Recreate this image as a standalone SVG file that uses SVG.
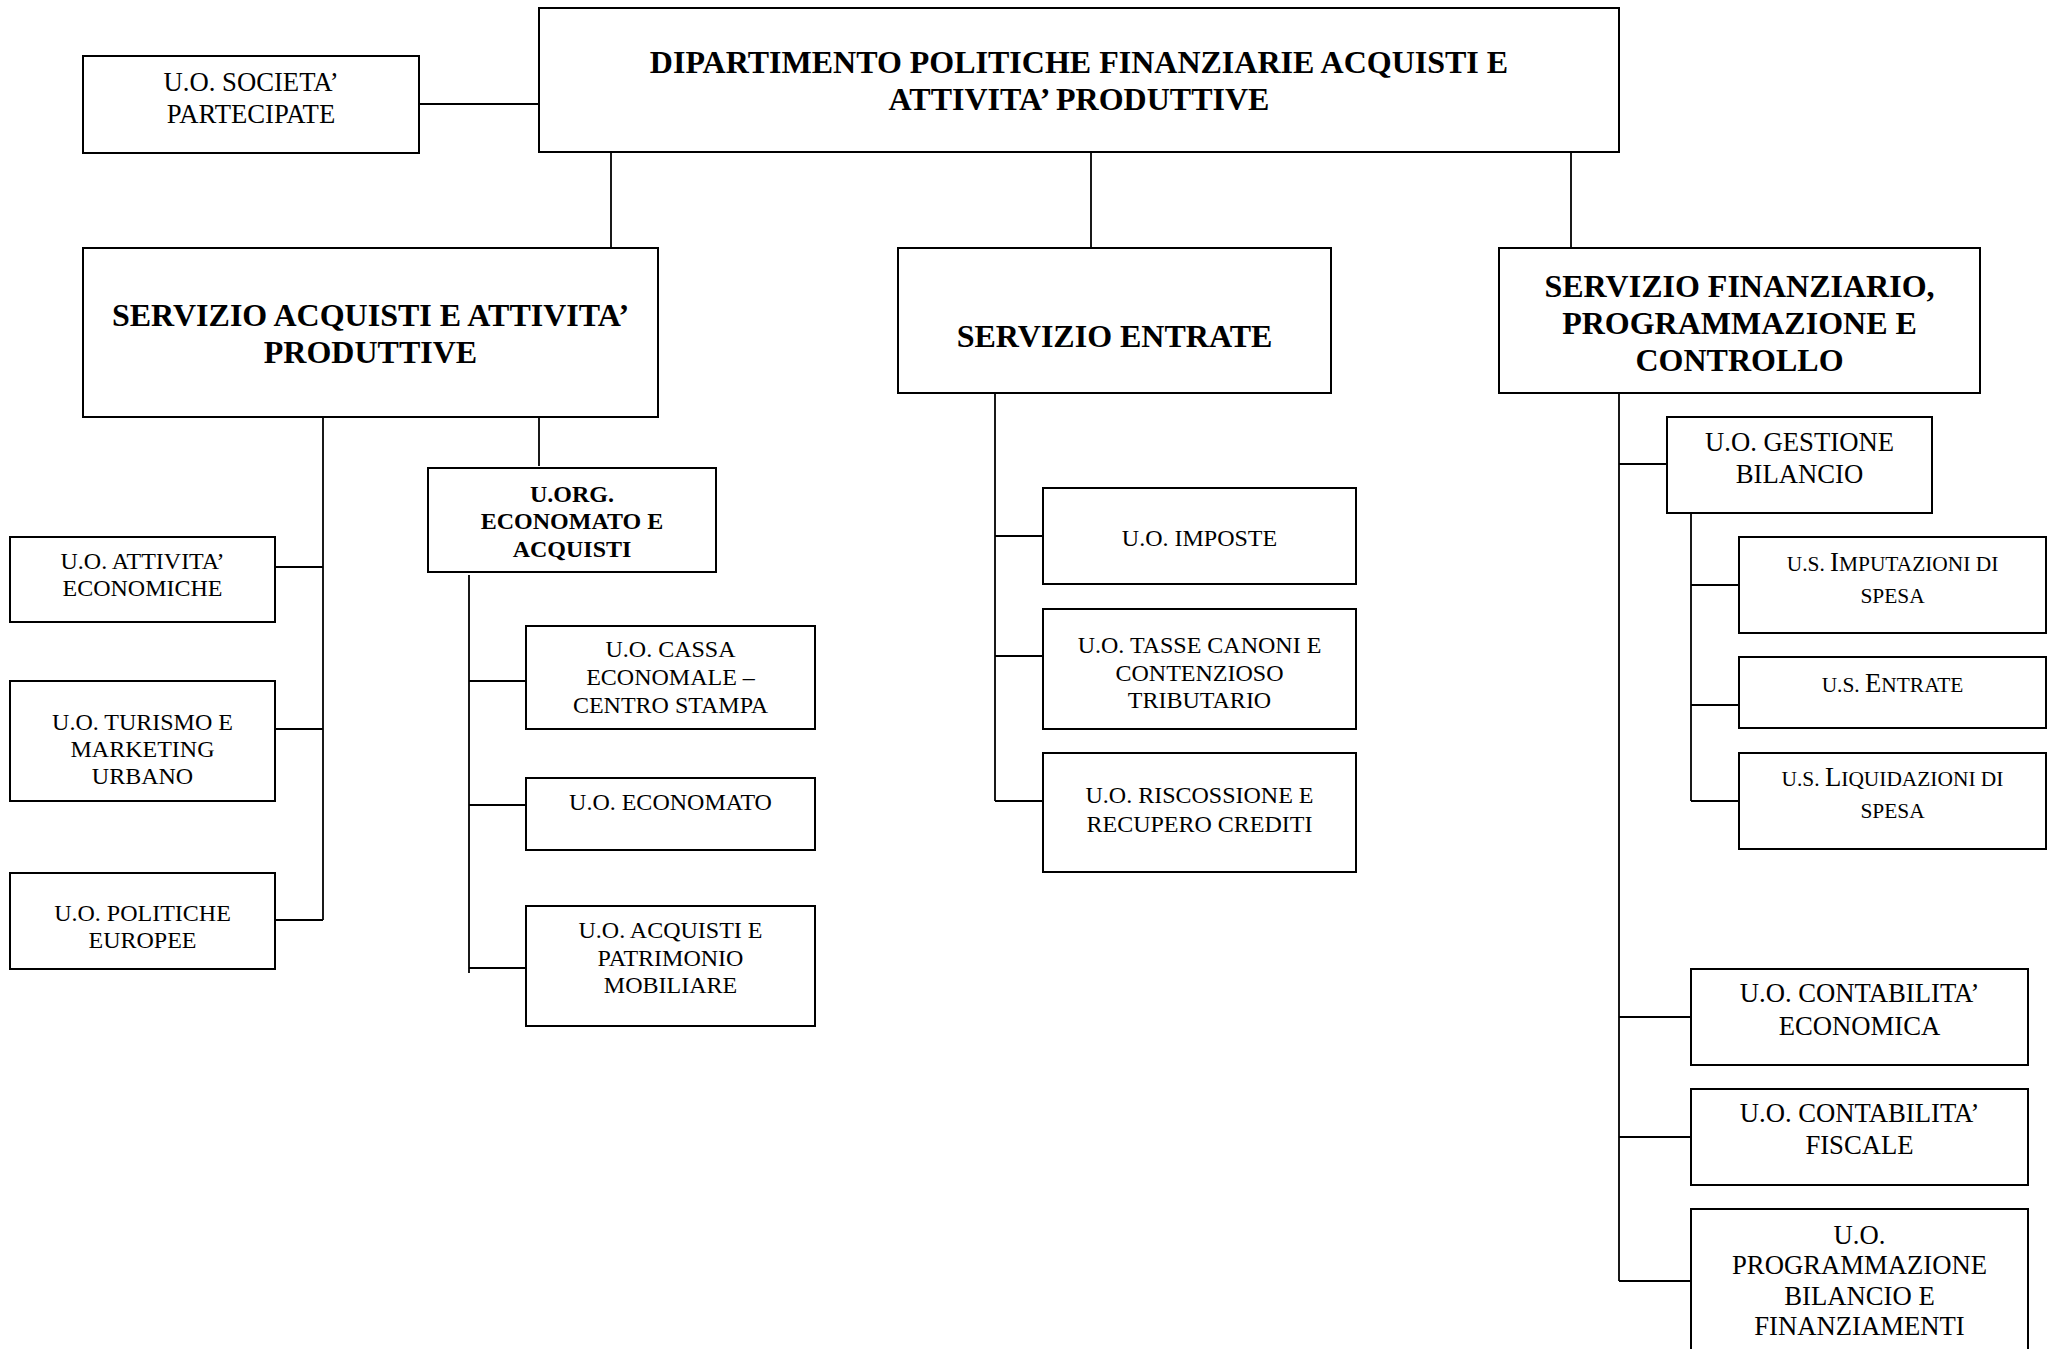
<svg xmlns="http://www.w3.org/2000/svg" width="2056" height="1349" viewBox="0 0 2056 1349">
<style>
rect{fill:#fff;stroke:#000;stroke-width:2}
text{font-family:"Liberation Serif","Times New Roman",serif;fill:#000;text-anchor:middle}
.b{font-weight:bold;font-size:32px}
.bs{font-weight:bold;font-size:24px}
.r{font-size:26.7px}
.s{font-size:24px}
.sc{font-size:21.4px}
#connectors line{stroke:#000;stroke-width:1.8}
</style>
<rect x="0" y="0" width="2056" height="1349" style="fill:#fff;stroke:none"/>
<g id="connectors">
<line x1="419" y1="104" x2="539" y2="104"/>
<line x1="611" y1="152" x2="611" y2="248"/>
<line x1="1091" y1="152" x2="1091" y2="248"/>
<line x1="1571" y1="152" x2="1571" y2="248"/>
<line x1="323" y1="417" x2="323" y2="920"/>
<line x1="275" y1="567" x2="323" y2="567"/>
<line x1="275" y1="729" x2="323" y2="729"/>
<line x1="275" y1="920" x2="323" y2="920"/>
<line x1="539" y1="417" x2="539" y2="466"/>
<line x1="469" y1="575" x2="469" y2="973"/>
<line x1="469" y1="681" x2="526" y2="681"/>
<line x1="469" y1="805" x2="526" y2="805"/>
<line x1="469" y1="968" x2="526" y2="968"/>
<line x1="995" y1="393" x2="995" y2="801"/>
<line x1="995" y1="536" x2="1043" y2="536"/>
<line x1="995" y1="656" x2="1043" y2="656"/>
<line x1="995" y1="801" x2="1043" y2="801"/>
<line x1="1619" y1="393" x2="1619" y2="1281"/>
<line x1="1619" y1="464" x2="1667" y2="464"/>
<line x1="1619" y1="1017" x2="1691" y2="1017"/>
<line x1="1619" y1="1137" x2="1691" y2="1137"/>
<line x1="1619" y1="1281" x2="1691" y2="1281"/>
<line x1="1691" y1="513" x2="1691" y2="801"/>
<line x1="1691" y1="585" x2="1739" y2="585"/>
<line x1="1691" y1="705" x2="1739" y2="705"/>
<line x1="1691" y1="801" x2="1739" y2="801"/>
</g>
<g id="dipartimento"><rect x="539" y="8" width="1080" height="144"/>
<text class="b" x="1079" y="73">DIPARTIMENTO POLITICHE FINANZIARIE ACQUISTI E</text>
<text class="b" x="1079" y="110">ATTIVITA’ PRODUTTIVE</text></g>
<g id="societa"><rect x="83" y="56" width="336" height="97"/>
<text class="r" x="251" y="91">U.O. SOCIETA’</text>
<text class="r" x="251" y="123">PARTECIPATE</text></g>
<g id="servizio-acquisti"><rect x="83" y="248" width="575" height="169"/>
<text class="b" x="370.5" y="326">SERVIZIO ACQUISTI E ATTIVITA’</text>
<text class="b" x="370.5" y="363">PRODUTTIVE</text></g>
<g id="servizio-entrate"><rect x="898" y="248" width="433" height="145"/>
<text class="b" x="1114.5" y="347">SERVIZIO ENTRATE</text></g>
<g id="servizio-finanziario"><rect x="1499" y="248" width="481" height="145"/>
<text class="b" x="1739.5" y="297">SERVIZIO FINANZIARIO,</text>
<text class="b" x="1739.5" y="334">PROGRAMMAZIONE E</text>
<text class="b" x="1739.5" y="371">CONTROLLO</text></g>
<g id="attivita-economiche"><rect x="10" y="537" width="265" height="85"/>
<text class="s" x="142.5" y="569">U.O. ATTIVITA’</text>
<text class="s" x="142.5" y="596">ECONOMICHE</text></g>
<g id="turismo"><rect x="10" y="681" width="265" height="120"/>
<text class="s" x="142.5" y="730">U.O. TURISMO E</text>
<text class="s" x="142.5" y="757">MARKETING</text>
<text class="s" x="142.5" y="784">URBANO</text></g>
<g id="politiche-europee"><rect x="10" y="873" width="265" height="96"/>
<text class="s" x="142.5" y="921">U.O. POLITICHE</text>
<text class="s" x="142.5" y="948">EUROPEE</text></g>
<g id="uorg-economato"><rect x="428" y="468" width="288" height="104"/>
<text class="bs" x="572" y="502">U.ORG.</text>
<text class="bs" x="572" y="529">ECONOMATO E</text>
<text class="bs" x="572" y="557">ACQUISTI</text></g>
<g id="cassa-economale"><rect x="526" y="626" width="289" height="103"/>
<text class="s" x="670.5" y="657">U.O. CASSA</text>
<text class="s" x="670.5" y="685">ECONOMALE –</text>
<text class="s" x="670.5" y="713">CENTRO STAMPA</text></g>
<g id="economato"><rect x="526" y="778" width="289" height="72"/>
<text class="s" x="670.5" y="810">U.O. ECONOMATO</text></g>
<g id="acquisti-patrimonio"><rect x="526" y="906" width="289" height="120"/>
<text class="s" x="670.5" y="938">U.O. ACQUISTI E</text>
<text class="s" x="670.5" y="966">PATRIMONIO</text>
<text class="s" x="670.5" y="993">MOBILIARE</text></g>
<g id="imposte"><rect x="1043" y="488" width="313" height="96"/>
<text class="s" x="1199.5" y="546">U.O. IMPOSTE</text></g>
<g id="tasse"><rect x="1043" y="609" width="313" height="120"/>
<text class="s" x="1199.5" y="653">U.O. TASSE CANONI E</text>
<text class="s" x="1199.5" y="681">CONTENZIOSO</text>
<text class="s" x="1199.5" y="708">TRIBUTARIO</text></g>
<g id="riscossione"><rect x="1043" y="753" width="313" height="119"/>
<text class="s" x="1199.5" y="803">U.O. RISCOSSIONE E</text>
<text class="s" x="1199.5" y="832">RECUPERO CREDITI</text></g>
<g id="gestione-bilancio"><rect x="1667" y="417" width="265" height="96"/>
<text class="r" x="1799.5" y="451">U.O. GESTIONE</text>
<text class="r" x="1799.5" y="483">BILANCIO</text></g>
<g id="imputazioni"><rect x="1739" y="537" width="307" height="96"/>
<text class="r" x="1892.5" y="571"><tspan class="sc">U.S. </tspan>I<tspan class="sc">MPUTAZIONI DI</tspan></text>
<text class="sc" x="1892.5" y="603">SPESA</text></g>
<g id="us-entrate"><rect x="1739" y="657" width="307" height="71"/>
<text class="r" x="1892.5" y="692"><tspan class="sc">U.S. </tspan>E<tspan class="sc">NTRATE</tspan></text></g>
<g id="liquidazioni"><rect x="1739" y="753" width="307" height="96"/>
<text class="r" x="1892.5" y="786"><tspan class="sc">U.S. </tspan>L<tspan class="sc">IQUIDAZIONI DI</tspan></text>
<text class="sc" x="1892.5" y="818">SPESA</text></g>
<g id="contabilita-economica"><rect x="1691" y="969" width="337" height="96"/>
<text class="r" x="1859.5" y="1002">U.O. CONTABILITA’</text>
<text class="r" x="1859.5" y="1035">ECONOMICA</text></g>
<g id="contabilita-fiscale"><rect x="1691" y="1089" width="337" height="96"/>
<text class="r" x="1859.5" y="1122">U.O. CONTABILITA’</text>
<text class="r" x="1859.5" y="1154">FISCALE</text></g>
<g id="programmazione"><rect x="1691" y="1209" width="337" height="160"/>
<text class="r" x="1859.5" y="1244">U.O.</text>
<text class="r" x="1859.5" y="1274">PROGRAMMAZIONE</text>
<text class="r" x="1859.5" y="1305">BILANCIO E</text>
<text class="r" x="1859.5" y="1335">FINANZIAMENTI</text></g>
</svg>
